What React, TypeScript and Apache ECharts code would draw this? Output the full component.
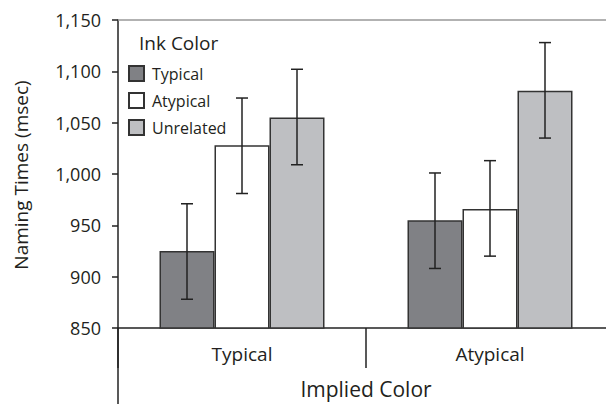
import React, { useEffect, useRef } from "react";
import * as echarts from "echarts";

const categories = ["Typical", "Atypical"];
const seriesNames = ["Typical", "Atypical", "Unrelated"];
const means = [
  [925, 955],
  [1028, 966],
  [1055, 1081],
];
const lower = [
  [878, 908],
  [981, 920],
  [1009, 1035],
];
const upper = [
  [971, 1001],
  [1074, 1013],
  [1102, 1128],
];
const yTicks = { min: 850, max: 1150, interval: 50 };
const colors = ["#808185", "#ffffff", "#bebfc2"];

const FONT = "'Open Sans', sans-serif";
const TEXT = "#231f20";
const BAR_W = 55;

export default function App() {
  const ref = useRef<HTMLDivElement>(null);
  useEffect(() => {
    if (!ref.current) return;
    const chart = echarts.init(ref.current, null, { renderer: "svg" });
    const barSeries = seriesNames.map((name, i) => ({
      name,
      type: "bar",
      data: means[i],
      barWidth: BAR_W,
      barGap: "0%",
      itemStyle: { color: colors[i], borderColor: "#333", borderWidth: 1.5 },
    }));
    const errSeries = seriesNames.map((name, i) => ({
      name: "err-" + name,
      type: "custom",
      z: 5,
      data: categories.map((_, c) => [c, lower[i][c], upper[i][c]]),
      renderItem: (params: any, api: any) => {
        const lo = api.coord([api.value(0), api.value(1)]);
        const hi = api.coord([api.value(0), api.value(2)]);
        const x = lo[0] + (i - 1) * BAR_W;
        const cap = 6;
        const style = { stroke: "#222", lineWidth: 1.5 };
        return {
          type: "group",
          children: [
            { type: "line", shape: { x1: x, y1: lo[1], x2: x, y2: hi[1] }, style },
            { type: "line", shape: { x1: x - cap, y1: lo[1], x2: x + cap, y2: lo[1] }, style },
            { type: "line", shape: { x1: x - cap, y1: hi[1], x2: x + cap, y2: hi[1] }, style },
          ],
        };
      },
    }));
    chart.setOption({
      animation: false,
      grid: { left: 118, top: 20, right: 6, bottom: 76, containLabel: false },
      legend: {
        data: seriesNames,
        orient: "vertical",
        left: 123,
        top: 60,
        itemWidth: 15,
        itemHeight: 15,
        itemGap: 10,
        icon: "rect",
        textStyle: { fontFamily: FONT, fontSize: 16, color: TEXT, padding: [0, 0, 0, 3] },
      },
      xAxis: {
        type: "category",
        data: categories,
        axisLine: { lineStyle: { color: "#222", width: 1.5 } },
        axisTick: { show: true, length: 40, lineStyle: { color: "#222", width: 1.5 } },
        axisLabel: { fontFamily: FONT, fontSize: 19, color: TEXT, margin: 16 },
      },
      yAxis: {
        type: "value",
        min: yTicks.min,
        max: yTicks.max,
        interval: yTicks.interval,
        splitLine: { show: false },
        axisLine: { show: true, lineStyle: { color: "#222", width: 1.5 } },
        axisTick: { show: true, length: 6, lineStyle: { color: "#222", width: 1.5 } },
        axisLabel: {
          fontFamily: FONT,
          fontSize: 18,
          color: TEXT,
          margin: 17,
          formatter: (v: number) => v.toLocaleString("en-US"),
        },
      },
      graphic: [
        {
          type: "line",
          shape: { x1: 118, y1: 20, x2: 614, y2: 20 },
          style: { stroke: "#999", lineWidth: 1.5 },
          z: 10,
        },
        {
          type: "line",
          shape: { x1: 118, y1: 328, x2: 118, y2: 404 },
          style: { stroke: "#222", lineWidth: 1.5 },
          z: 10,
        },
        {
          type: "text",
          x: 139,
          y: 43,
          style: {
            text: "Ink Color",
            fontFamily: FONT,
            fontSize: 19,
            fill: TEXT,
            textAlign: "left",
            textVerticalAlign: "middle",
          },
        },
        {
          type: "text",
          x: 21,
          y: 175,
          rotation: Math.PI / 2,
          style: {
            text: "Naming Times (msec)",
            fontFamily: FONT,
            fontSize: 19,
            fill: TEXT,
            textAlign: "center",
            textVerticalAlign: "middle",
          },
        },
        {
          type: "text",
          x: 366,
          y: 389,
          style: {
            text: "Implied Color",
            fontFamily: FONT,
            fontSize: 21,
            fill: TEXT,
            textAlign: "center",
            textVerticalAlign: "middle",
          },
        },
      ],
      series: [...barSeries, ...errSeries],
    });
    return () => chart.dispose();
  }, []);
  return (
    <div style={{ position: "fixed", left: 0, top: 0, width: 606, height: 404, overflow: "hidden", background: "#fff" }}>
      <div ref={ref} style={{ width: 620, height: 404 }} />
    </div>
  );
}
